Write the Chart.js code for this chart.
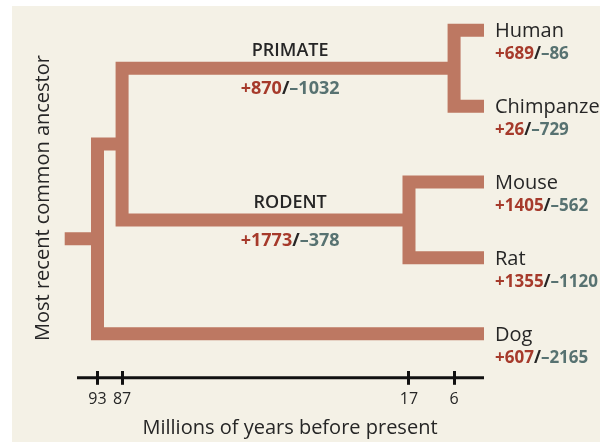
<!DOCTYPE html>
<html>
<head>
<meta charset="utf-8">
<script src="https://cdn.jsdelivr.net/npm/chart.js@4.4.1/dist/chart.umd.min.js"></script>
<style>
  html, body { margin: 0; padding: 0; background: #fff; }
  #wrap { width: 600px; height: 442px; }
</style>
</head>
<body>
<div id="wrap"><canvas id="chart" width="600" height="442"></canvas></div>
<script>
// tips of the tree, top to bottom
const species = ['Human', 'Chimpanzee', 'Mouse', 'Rat', 'Dog'];
const speciesGains = [689, 26, 1405, 1355, 607];
const speciesLosses = [86, 729, 562, 1120, 2165];

// the two named internal branches
const clades = ['PRIMATE', 'RODENT'];
const cladeGains = [870, 1773];
const cladeLosses = [1032, 378];

// split times (millions of years before present): root, primate+rodent, rodent, primate
const tickValues = [93, 87, 17, 6];

const FONT = '"Open Sans", "Noto Sans", sans-serif';
const BRANCH = '#bd7862';
const RED = '#a63a2b';
const TEAL = '#577271';
const INK = '#262626';

const TIP = -1.3;        // branches run a little past the present
const ROOT_START = 101;  // stub for the common ancestor
const CLADE_LABEL_AT = 46;

// rows: one per species, internal nodes sit half way between their children
const leaves = species.map((s, i) => ({ t: TIP, row: i + 1 }));
function node(t, children) {
  return { t, children, row: (children[0].row + children[children.length - 1].row) / 2 };
}
const primateNode = node(tickValues[3], [leaves[0], leaves[1]]);
const rodentNode = node(tickValues[2], [leaves[2], leaves[3]]);
const euarchNode = node(tickValues[1], [primateNode, rodentNode]);
const rootNode = node(tickValues[0], [euarchNode, leaves[4]]);

// walk the tree as one path so overlapping strokes merge cleanly
function walk(n, pts) {
  n.children.forEach(ch => {
    pts.push({ x: n.t, y: ch.row });
    pts.push({ x: ch.t, y: ch.row });
    if (ch.children) walk(ch, pts);
    pts.push({ x: n.t, y: ch.row });
  });
  pts.push({ x: n.t, y: n.row });
}
const treePath = [{ x: ROOT_START, y: rootNode.row }, { x: rootNode.t, y: rootNode.row }];
walk(rootNode, treePath);

const datasets = [{
  data: treePath,
  showLine: true,
  borderColor: BRANCH,
  borderWidth: 13,
  borderCapStyle: 'butt',
  borderJoinStyle: 'miter',
  pointRadius: 0,
  pointHoverRadius: 0,
  tension: 0,
  fill: false,
  clip: false,
}];

// cream panel behind everything
const panelPlugin = {
  id: 'panel',
  beforeDraw(chart) {
    const ctx = chart.ctx;
    ctx.save();
    ctx.fillStyle = '#ffffff';
    ctx.fillRect(0, 0, chart.width, chart.height);
    ctx.fillStyle = '#f4f1e6';
    ctx.fillRect(12, 6, chart.width - 12, chart.height - 6);
    ctx.restore();
  },
};

// draws "+gain/–loss" in three colours
function gainLoss(ctx, gain, loss, x, y, align) {
  const parts = [['+' + gain, RED], ['/', INK], ['\u2013' + loss, TEAL]];
  const total = parts.reduce((w, p) => w + ctx.measureText(p[0]).width, 0);
  let cx = align === 'center' ? x - total / 2 : x;
  ctx.textAlign = 'left';
  parts.forEach(([txt, col]) => {
    ctx.fillStyle = col;
    ctx.fillText(txt, cx, y);
    cx += ctx.measureText(txt).width;
  });
}

const labelPlugin = {
  id: 'labels',
  afterDraw(chart) {
    const ctx = chart.ctx;
    const xs = chart.scales.x;
    const ys = chart.scales.y;
    const area = chart.chartArea;
    ctx.save();

    // axis line through the middle of the tick marks
    ctx.strokeStyle = '#111';
    ctx.lineWidth = 3;
    ctx.beginPath();
    ctx.moveTo(area.left, area.bottom + 7);
    ctx.lineTo(area.right, area.bottom + 7);
    ctx.stroke();

    ctx.textBaseline = 'alphabetic';
    const tipX = xs.getPixelForValue(TIP) + 11;
    species.forEach((name, i) => {
      const y = ys.getPixelForValue(leaves[i].row);
      ctx.font = '20px ' + FONT;
      ctx.fillStyle = INK;
      ctx.textAlign = 'left';
      ctx.fillText(name, tipX, y + 7);
      ctx.font = 'bold 17px ' + FONT;
      gainLoss(ctx, speciesGains[i], speciesLosses[i], tipX, y + 29, 'left');
    });

    const cladeNodes = [primateNode, rodentNode];
    const cx = xs.getPixelForValue(CLADE_LABEL_AT);
    clades.forEach((name, i) => {
      const y = ys.getPixelForValue(cladeNodes[i].row);
      ctx.font = '600 18px ' + FONT;
      ctx.fillStyle = INK;
      ctx.textAlign = 'center';
      ctx.fillText(name, cx, y - 12);
      ctx.font = 'bold 18px ' + FONT;
      gainLoss(ctx, cladeGains[i], cladeLosses[i], cx, y + 26, 'center');
    });

    // axis titles
    ctx.fillStyle = INK;
    ctx.font = '20px ' + FONT;
    ctx.textAlign = 'center';
    ctx.textBaseline = 'middle';
    ctx.fillText('Millions of years before present', 290, 428);
    ctx.translate(43, 198);
    ctx.rotate(-Math.PI / 2);
    ctx.fillText('Most recent common ancestor', 0, 0);
    ctx.restore();
  },
};

new Chart(document.getElementById('chart'), {
  type: 'scatter',
  data: { datasets },
  options: {
    responsive: false,
    animation: false,
    events: [],
    layout: { padding: { left: 77, right: 116, top: 0, bottom: 28 } },
    plugins: {
      legend: { display: false },
      tooltip: { enabled: false },
    },
    scales: {
      x: {
        type: 'linear',
        reverse: true,
        min: TIP,
        max: 98,
        afterBuildTicks: (scale) => {
          scale.ticks = tickValues.map(v => ({ value: v }));
        },
        grid: { drawOnChartArea: false, tickLength: 14, color: '#111', lineWidth: 3 },
        border: { display: false },
        ticks: { padding: 5, color: INK, font: { family: FONT, size: 16 } },
      },
      y: {
        display: false,
        reverse: true,
        min: 0.6,
        max: 5.49,
      },
    },
  },
  plugins: [panelPlugin, labelPlugin],
});
</script>
</body>
</html>
